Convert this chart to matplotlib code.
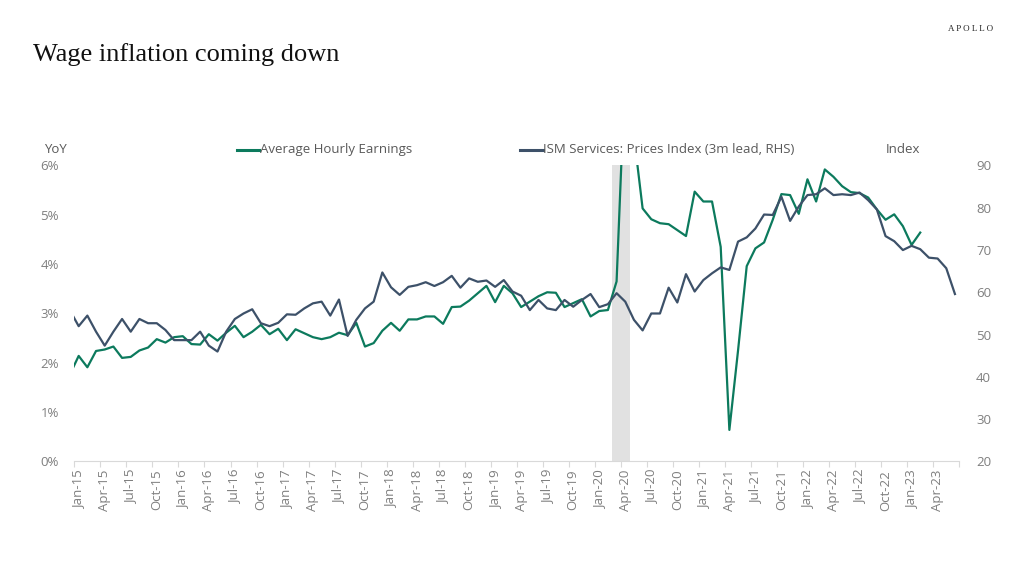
import numpy as np
import pandas as pd
import matplotlib
matplotlib.use("Agg")
import matplotlib.pyplot as plt
from matplotlib.lines import Line2D

# monthly categories, Dec-14 .. Jun-23 (first point sits just off the left edge)
months = pd.date_range("2014-12-01", "2023-06-01", freq="MS")

# Average Hourly Earnings, YoY % (Dec-14 .. Feb-23)
ahe = [1.77, 2.14, 1.91, 2.24, 2.27, 2.33, 2.10, 2.12, 2.25, 2.31, 2.48, 2.41, 2.52,
       2.54, 2.38, 2.37, 2.58, 2.45, 2.61, 2.75, 2.52, 2.63, 2.77, 2.58, 2.69,
       2.46, 2.68, 2.60, 2.52, 2.48, 2.52, 2.61, 2.56, 2.81, 2.33, 2.40, 2.65,
       2.81, 2.65, 2.88, 2.88, 2.94, 2.94, 2.79, 3.13, 3.14, 3.26, 3.41, 3.56,
       3.23, 3.56, 3.41, 3.13, 3.24, 3.35, 3.43, 3.42, 3.13, 3.21, 3.29, 2.94,
       3.05, 3.07, 3.65, 8.00, 6.60, 5.13, 4.91, 4.83, 4.81, 4.69, 4.57, 5.47,
       5.27, 5.27, 4.35, 0.64, 2.25, 3.96, 4.32, 4.44, 4.90, 5.42, 5.40, 5.02,
       5.72, 5.27, 5.92, 5.77, 5.58, 5.46, 5.44, 5.35, 5.11, 4.90, 5.01, 4.77,
       4.39, 4.64]

# ISM Services: Prices Index, 3m lead (Dec-14 .. Jun-23)
ism = [55.7, 52.0, 54.5, 50.7, 47.4, 50.7, 53.7, 50.7, 53.7, 52.7, 52.7, 51.1, 48.7,
       48.7, 48.7, 50.7, 47.4, 46.0, 50.7, 53.7, 55.0, 56.0, 52.7, 52.0, 52.8,
       54.8, 54.7, 56.2, 57.4, 57.8, 54.5, 58.3, 49.7, 53.5, 56.2, 57.8, 64.7,
       61.2, 59.4, 61.3, 61.7, 62.4, 61.5, 62.4, 63.9, 61.1, 63.3, 62.5, 62.8,
       61.3, 62.9, 60.2, 59.2, 55.8, 58.2, 56.2, 55.8, 58.2, 56.6, 58.2, 59.6,
       56.5, 57.2, 59.8, 57.8, 53.5, 51.0, 55.0, 55.0, 61.1, 57.6, 64.3, 60.2,
       62.9, 64.5, 65.9, 65.3, 72.0, 73.0, 75.1, 78.4, 78.3, 82.6, 76.9, 80.3,
       83.0, 83.2, 84.6, 83.0, 83.2, 83.0, 83.6, 81.8, 79.6, 73.3, 72.1, 70.0,
       71.0, 70.2, 68.2, 68.0, 65.7, 59.6]

recession = ("2020-03-01", "2020-04-01")

green = "#0c7a5d"
navy = "#3d5169"
grey_txt = "#7f7f7f"
label_txt = "#595959"

x = np.arange(len(months)) - 1          # Jan-15 = 0
x_ahe = x[:len(ahe)]

fig = plt.figure(figsize=(10.24, 5.76), dpi=100)
ax = fig.add_axes([0.0726, 0.1988, 0.8642, 0.5139])
ax2 = ax.twinx()

r0 = months.get_loc(pd.Timestamp(recession[0])) - 1
r1 = months.get_loc(pd.Timestamp(recession[1])) - 1
ax.axvspan(r0 - 0.5, r1 + 0.5, color="#e1e1e1", lw=0, zorder=0)

ax.plot(x_ahe, ahe, color=green, lw=1.6, zorder=3)
ax2.plot(x, ism, color=navy, lw=1.6, zorder=3)

ax.set_xlim(-0.5, x[-1] + 0.5)
ax.set_ylim(0, 6)
ax2.set_ylim(20, 90)

ax.set_yticks(np.arange(0, 7, 1))
ax.set_yticklabels([f"{v}%" for v in range(0, 7)])
ax2.set_yticks(np.arange(20, 91, 10))

# x axis: ticks between categories every quarter, labels centred on months
ax.set_xticks(np.arange(-0.5, x[-1] + 1, 3))
ax.set_xticklabels([])
lab_pos = [i for i, m in zip(x, months) if i >= 0 and m.month in (1, 4, 7, 10)]
lab_txt = [months[i + 1].strftime("%b-%y") for i in lab_pos]
ax.set_xticks(lab_pos, minor=True)
ax.set_xticklabels(lab_txt, minor=True, rotation=90, fontsize=9.5,
                   color=grey_txt, family="Open Sans")
ax.tick_params(axis="x", which="major", length=4, color="#d9d9d9", width=0.8)
ax.tick_params(axis="x", which="minor", length=0, pad=6)

for a in (ax, ax2):
    for s in a.spines.values():
        s.set_visible(False)
ax.spines["bottom"].set_visible(True)
ax.spines["bottom"].set_color("#d9d9d9")
ax.tick_params(axis="y", length=0, pad=11, labelsize=9.5, labelcolor=grey_txt)
ax2.tick_params(axis="y", length=0, pad=12, labelsize=9.5, labelcolor=grey_txt)
for lbl in ax.get_yticklabels() + ax2.get_yticklabels():
    lbl.set_family("Open Sans")

# titles and axis captions
fig.text(0.032, 0.905, "Wage inflation coming down", family="Liberation Serif",
         fontsize=19, color="#111111", va="center")
fig.text(0.970, 0.950, "A P O L L O", family="Liberation Serif", fontsize=6.5,
         color="#222222", ha="right", va="center")
fig.text(0.043, 0.741, "YoY", family="Open Sans", fontsize=9.5, color=label_txt, va="center")
fig.text(0.865, 0.741, "Index", family="Open Sans", fontsize=9.5, color=label_txt, va="center")

# legend
for x0, col, txt in [(0.231, green, "Average Hourly Earnings"),
                     (0.508, navy, "ISM Services: Prices Index (3m lead, RHS)")]:
    fig.add_artist(Line2D([x0, x0 + 0.022], [0.740, 0.740], color=col, lw=2.2,
                          transform=fig.transFigure))
    fig.text(x0 + 0.0225, 0.740, txt, family="Open Sans", fontsize=9.5,
             color=label_txt, va="center")

fig.savefig("out.png", dpi=100, facecolor="white")
